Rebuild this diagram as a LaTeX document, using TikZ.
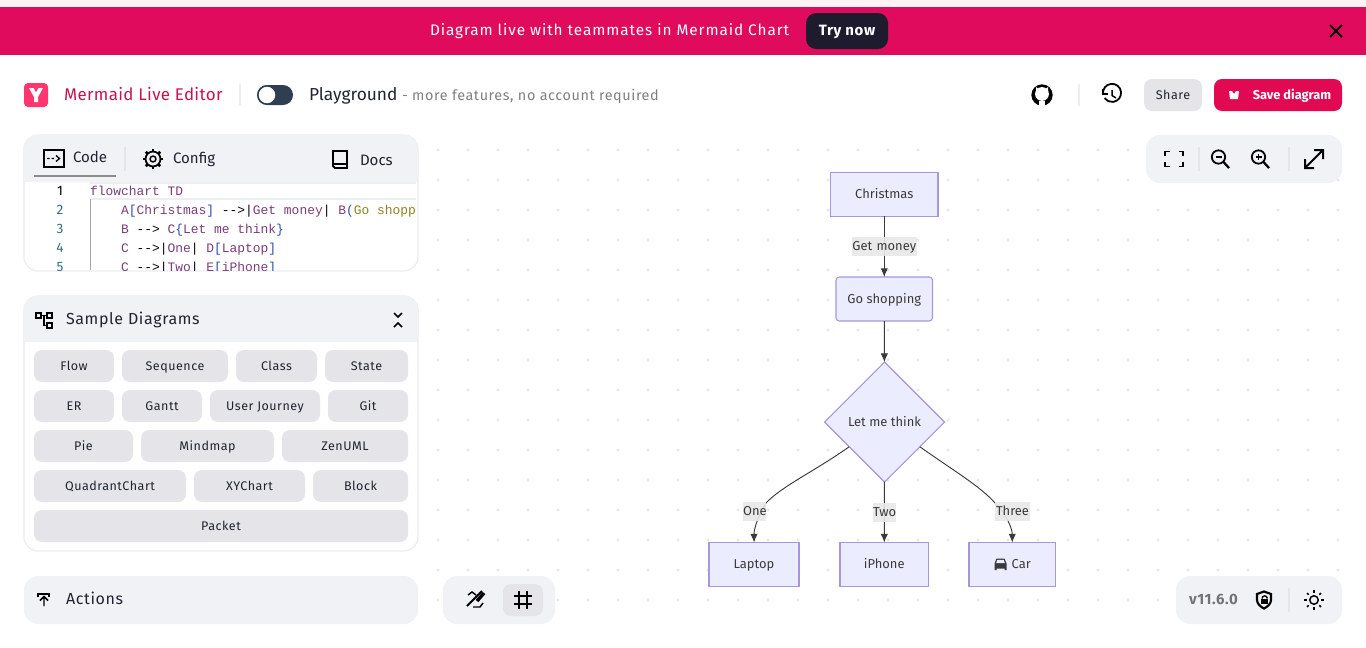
\documentclass[tikz,border=0pt]{standalone}
\usepackage{fontspec}
\setmainfont{Fira Sans}
\setmonofont{Liberation Mono}
\newfontfamily\spacedfont[LetterSpace=4]{Fira Sans}
\newfontfamily\widefont[LetterSpace=6]{Fira Sans}
\usetikzlibrary{arrows.meta,shapes.geometric}

\definecolor{bannerpink}{HTML}{E00B5C}
\definecolor{bannertop}{HTML}{FFF4F4}
\definecolor{darkbtn}{HTML}{1E1B2E}
\definecolor{logopink}{HTML}{FF3670}
\definecolor{titlepink}{HTML}{C9124F}
\definecolor{savepink}{HTML}{E10A52}
\definecolor{panelbg}{HTML}{F1F2F6}
\definecolor{panelline}{HTML}{EDEEF1}
\definecolor{btnbg}{HTML}{E5E5E9}
\definecolor{inkdark}{HTML}{1F2430}
\definecolor{togglebg}{HTML}{2F3E50}
\definecolor{griddot}{HTML}{E7E7E9}
\definecolor{flowfill}{HTML}{ECECFF}
\definecolor{flowline}{HTML}{A896DC}
\definecolor{edgeink}{HTML}{3A3A3A}
\definecolor{edgebg}{HTML}{E8E8E8}
\definecolor{codepurple}{HTML}{7A3E7A}
\definecolor{codeblue}{HTML}{2B4FB0}
\definecolor{codeolive}{HTML}{8C8420}
\definecolor{codenum}{HTML}{2F6F7F}

\tikzset{
    uitext/.style={anchor=west, inner sep=0pt, outer sep=0pt, text height=10pt, text depth=2pt, text=inkdark, font=\fontsize{11.3pt}{12pt}\selectfont},
    codetext/.style={anchor=west, inner sep=0pt, outer sep=0pt, text height=9.5pt, text depth=2.5pt, font=\ttfamily\fontsize{9.7pt}{11pt}\selectfont, text=codepurple},
    linenum/.style={inner sep=0pt, outer sep=0pt, text height=9.5pt, text depth=2.5pt, font=\fontsize{10.2pt}{11pt}\selectfont, text=codenum},
    panel/.style={fill=panelbg, rounded corners=10.5pt},
    samplebtn/.style={fill=btnbg, rounded corners=6pt, inner sep=0pt, outer sep=0pt, anchor=west, text height=9pt, text depth=2.5pt, minimum height=24pt, text=inkdark, font=\spacedfont\fontsize{9.4pt}{11pt}\selectfont},
    sepline/.style={draw=panelline, line width=1pt},
    icon/.style={draw=black, line width=1.35pt},
    flowbox/.style={draw=flowline, fill=flowfill, line width=0.8pt, inner sep=0pt, outer sep=0pt, text height=9pt, text depth=2.5pt, minimum height=33pt, text=edgeink, font=\fontsize{9.7pt}{11pt}\selectfont},
    flowdiamond/.style={flowbox, diamond, aspect=1, minimum width=90pt, minimum height=90pt},
    flowedge/.style={draw=edgeink, line width=0.7pt, -{Latex[length=6.5pt,width=5.5pt]}},
    edgelabel/.style={fill=edgebg, fill opacity=0.9, text opacity=1, text=edgeink, inner sep=0pt, text height=9pt, text depth=2.5pt, minimum height=14.5pt, font=\fontsize{9.7pt}{11pt}\selectfont}
}

\begin{document}
\begin{tikzpicture}[x=0.75pt, y=-0.75pt]
\useasboundingbox (0,0) rectangle (1366,647);
\fill [white] (0,0) rectangle (1366,647);

% dots behind the canvas
\foreach \x in {438,468,...,1338}
    \foreach \y in {150,180,...,600}
        \fill [griddot] (\x,\y) circle (1.15pt);

% banner
\fill [bannertop] (0,0) rectangle (1366,7);
\fill [bannerpink] (0,7) rectangle (1366,55);
\node [uitext, text=white, font=\widefont\fontsize{11.5pt}{12pt}\selectfont] (bannertext) at (430,30) {Diagram live with teammates in Mermaid Chart};
\node [samplebtn, fill=darkbtn, minimum width=61.5pt, minimum height=27pt, rounded corners=7.5pt, text=white, font=\spacedfont\bfseries\fontsize{11.2pt}{12pt}\selectfont] (trynow) at (806,31) {Try now};
\draw [icon, line width=1.5pt] (1330,25) -- (1342,37) (1342,25) -- (1330,37);

% top bar
\fill [logopink, rounded corners=3pt] (24,83) rectangle (48,107);
\fill [white] (29,88) -- (33.5,88) -- (36,92.5) -- (38.5,88) -- (43,88) -- (38,97) -- (38,102) -- (34,102) -- (34,97) -- cycle;
\node [uitext, text=titlepink, font=\fontsize{12.7pt}{14pt}\selectfont\addfontfeature{LetterSpace=2}] (title) at (64,95) {Mermaid Live Editor};
\draw [sepline] (240,84) -- (240,106);
\fill [togglebg, rounded corners=7.5pt] (257,85) rectangle (293,105);
\draw [fill=white, draw=togglebg, line width=1pt] (267,95) circle (6.8pt);
\node [uitext, font=\fontsize{13pt}{14pt}\selectfont] (playground) at (309,95) {Playground};
\node [uitext, text=black!50, font=\spacedfont\fontsize{10.8pt}{12pt}\selectfont] (playnote) at (402,95) {- more features, no account required};

\fill [black] (1042,95) circle (8pt);
\fill [white] (1042,94) circle (5.2pt);
\fill [white] (1036,87) -- (1040,90) -- (1036,92) -- cycle (1048,87) -- (1044,90) -- (1048,92) -- cycle;
\fill [white] (1039,101) rectangle (1045,107);
\draw [sepline] (1079,84) -- (1079,106);
\draw [icon] (1103,89) -- (1103,94) -- (1108,94);
\draw [icon] (1103,94) arc (187:-145:6.8pt);
\draw [icon, line width=1.1pt] (1112,90) -- (1112,95.5) -- (1116,98);
\node [samplebtn, minimum width=43.5pt, text=inkdark] (share) at (1144,95) {Share};
\node [samplebtn, fill=savepink, minimum width=96pt, text=white, font=\bfseries\fontsize{9.6pt}{11pt}\selectfont] (savebtn) at (1214,95) {\hspace*{21pt}Save diagram};
\fill [white] (1229,91) -- (1232,91) -- (1234,94) -- (1236,91) -- (1239,91) -- (1238,99) -- (1230,99) -- cycle;

% code panel
\draw [draw=panelline, fill=white, rounded corners=10.5pt, line width=1pt] (24,135) rectangle (418,271);
\fill [panelbg] (24,182) [rounded corners=10.5pt] -- (24,135) -- (418,135) [sharp corners] -- (418,182) -- cycle;
\draw [draw=black!45, line width=1.5pt] (34,176) -- (116,176);
\draw [sepline, draw=btnbg] (125,147) -- (125,171);
\draw [icon] (44,150) rectangle (64,167);
\draw [icon, line width=1pt] (47,158.5) -- (49.5,158.5) (51.5,158.5) -- (54,158.5) (56,155.5) -- (59.5,158.5) -- (56,161.5);
\node [uitext] (codetab) at (73,157) {Code};
\draw [icon, line width=1.3pt] (153,159) circle (5.6pt);
\draw [icon, line width=1.1pt] (153,159) circle (2.2pt);
\foreach \a in {0,45,...,315}
    \draw [icon, line width=2pt] (153,159) ++(\a:5.6pt) -- ++(\a:2pt);
\node [uitext] (configtab) at (173,158) {Config};
\draw [icon] (333,151) -- (347,151) -- (347,168) -- (335,168) -- (333,166) -- cycle;
\draw [icon, line width=1pt] (333,164) -- (347,164);
\node [uitext] (docstab) at (360,160) {Docs};

\draw [draw=panelline, line width=0.8pt] (90,183) -- (416,183) (90,199) -- (416,199);
\draw [draw=black!35, line width=0.6pt] (90,199) -- (90,270);
\begin{scope}
\clip (24,183) rectangle (414,270);
\foreach \n/\y in {2/209.5,3/228.5,4/247.5,5/266.5}
    \node [linenum] (num\n) at (60,\y) {\n};
\node [linenum, text=black] (num1) at (60,190.5) {1};
\node [codetext] (line1) at (90,190.5) {flowchart TD};
\node [codetext] (line2) at (121,209.5) {A\textcolor{codeblue}{[}Christmas\textcolor{codeblue}{]} \textcolor{black}{-->|}Get money\textcolor{black}{|} B\textcolor{codeblue}{(}\textcolor{codeolive}{Go shopp}};
\node [codetext] (line3) at (121,228.5) {B \textcolor{black}{-->} C\textcolor{codeblue}{\{}Let me think\textcolor{codeblue}{\}}};
\node [codetext] (line4) at (121,247.5) {C \textcolor{black}{-->|}One\textcolor{black}{|} D\textcolor{codeblue}{[}Laptop\textcolor{codeblue}{]}};
\node [codetext] (line5) at (121,266.5) {C \textcolor{black}{-->|}Two\textcolor{black}{|} E\textcolor{codeblue}{[}iPhone\textcolor{codeblue}{]}};
\end{scope}

% sample diagrams
\draw [draw=panelline, fill=white, rounded corners=10.5pt, line width=1pt] (24,296) rectangle (418,551);
\fill [panelbg] (24,342) [rounded corners=10.5pt] -- (24,296) -- (418,296) [sharp corners] -- (418,342) -- cycle;
\draw [icon, line width=1pt] (36,313) rectangle (41,318) (47,313) rectangle (52,318) (47,323) rectangle (52,328);
\draw [icon, line width=1pt] (41,315.5) -- (47,315.5) (44,315.5) -- (44,325.5) -- (47,325.5);
\node [uitext, font=\spacedfont\fontsize{12pt}{14pt}\selectfont] (sampletitle) at (66,319) {Sample Diagrams};
\draw [icon, line width=1.1pt] (394,313) -- (398,317) -- (402,313) (394,327) -- (398,323) -- (402,327);

\foreach \bname/\bx/\bw in {Flow/34/80,Sequence/122/106,Class/236/81,State/325/83}
    \node [samplebtn, minimum width=\bw*0.75pt] (btn\bname) at (\bx,366) {\bname};
\foreach \bname/\bx/\bw in {ER/34/80,Gantt/122/80,User Journey/210/110,Git/328/80}
    \node [samplebtn, minimum width=\bw*0.75pt] at (\bx,406) {\bname};
\foreach \bname/\bx/\bw in {Pie/34/99,Mindmap/141/133,ZenUML/282/126}
    \node [samplebtn, minimum width=\bw*0.75pt] (btn\bname) at (\bx,446) {\bname};
\foreach \bname/\bx/\bw in {QuadrantChart/34/152,XYChart/194/111,Block/313/95}
    \node [samplebtn, minimum width=\bw*0.75pt] (btn\bname) at (\bx,486) {\bname};
\node [samplebtn, minimum width=280.5pt] (btnPacket) at (34,526) {Packet};

% bottom left
\fill [panel] (24,576) rectangle (418,624);
\draw [icon, line width=1.1pt] (37,594) -- (50,594) (38,597) -- (38,594) (49,597) -- (49,594);
\draw [icon, line width=1.1pt] (44,606) -- (44,597) (40,600.5) -- (44,596.5) -- (48,600.5);
\node [uitext, font=\spacedfont\fontsize{12pt}{14pt}\selectfont] (actions) at (66,599) {Actions};
\fill [panel] (443,576) rectangle (555,624);
\draw [icon] (467,606) -- (482,591);
\draw [icon, line width=2.6pt] (477,601) -- (484,593);
\draw [icon, line width=1.1pt] (468,595) -- (472,592) -- (476,595) (473,607) -- (480,607) -- (483,603);
\fill [btnbg, rounded corners=6pt] (503,584) rectangle (543,616);
\draw [icon, line width=2pt] (519,591) -- (519,609) (527,591) -- (527,609) (514,596) -- (532,596) (514,604) -- (532,604);

% top right tools
\fill [panel] (1146,135) rectangle (1342,183);
\draw [icon] (1165,156) -- (1165,151.5) -- (1169.5,151.5) (1178.5,151.5) -- (1183,151.5) -- (1183,156) (1183,162) -- (1183,166.5) -- (1178.5,166.5) (1169.5,166.5) -- (1165,166.5) -- (1165,162);
\draw [sepline, draw=btnbg] (1199,147) -- (1199,171);
\draw [icon] (1218.5,157) circle (5pt);
\draw [icon, line width=1.7pt] (1223.5,162) -- (1229,168);
\draw [icon, line width=1.1pt] (1215.5,157) -- (1221.5,157);
\draw [icon] (1258.5,157) circle (5pt);
\draw [icon, line width=1.7pt] (1263.5,162) -- (1269,168);
\draw [icon, line width=1.1pt] (1255.5,157) -- (1261.5,157) (1258.5,154) -- (1258.5,160);
\draw [sepline, draw=btnbg] (1289,147) -- (1289,171);
\draw [icon, line width=1.5pt] (1305,168) -- (1323,150) (1314,150) -- (1323,150) -- (1323,159) (1305,159) -- (1305,168) -- (1314,168);

% bottom right tools
\fill [panel] (1176,576) rectangle (1342,624);
\node [uitext, text=black!55, font=\bfseries\spacedfont\fontsize{11.2pt}{12pt}\selectfont] (version) at (1189,599.5) {v11.6.0};
\draw [icon, line width=1.6pt] (1264,591.5) -- (1271,594) -- (1271,600) .. controls (1271,604) and (1267,607) .. (1264,608.5) .. controls (1261,607) and (1257,604) .. (1257,600) -- (1257,594) -- cycle;
\fill [black] (1260.5,598.5) rectangle (1267.5,604);
\draw [icon, line width=1pt] (1262,598.5) arc (180:0:2pt);
\draw [sepline, draw=btnbg] (1289,588) -- (1289,612);
\draw [icon, line width=1.1pt] (1314,600) circle (3.2pt);
\foreach \a in {0,45,...,315}
    \draw [icon, line width=1.1pt] (1314,600) ++(\a:5.6pt) -- ++(\a:1.8pt);

% flowchart
\node [flowbox, minimum width=80.6pt] (christmas) at (884.25,194.25) {Christmas};
\node [flowbox, minimum width=72.4pt, rounded corners=2.5pt] (shopping) at (884.25,299) {Go shopping};
\node [flowdiamond] (think) at (884.5,422) {Let me think};
\node [flowbox, minimum width=67.5pt] (laptop) at (754,564.5) {Laptop};
\node [flowbox, minimum width=66.4pt] (iphone) at (884.25,564.5) {iPhone};
\node [flowbox, minimum width=64.9pt] (car) at (1012.25,564.5) {\hspace*{13.5pt}Car};
\fill [edgeink] (994.5,570) -- (994.5,563.5) -- (996.5,558.5) -- (1004.5,558.5) -- (1006.5,563.5) -- (1006.5,570) -- (1004.5,570) -- (1004.5,568.5) -- (996.5,568.5) -- (996.5,570) -- cycle;
\fill [flowfill] (997.3,559.8) -- (1003.7,559.8) -- (1004.8,563) -- (996.2,563) -- cycle;

\draw [flowedge] (christmas) -- node [edgelabel, text width=48.5pt, align=center] (getmoney) {Get money} (shopping);
\draw [flowedge] (shopping) -- (think);
\draw [flowedge] (think) -- node [edgelabel, text width=17pt, align=center] (two) {Two} (iphone);
\draw [flowedge] (think.215) .. controls (815,471) and (782,486) .. (766,503) .. controls (759,514) and (754,528) .. (laptop.north);
\draw [flowedge] (think.-35) .. controls (954,471) and (980,486) .. (995,503) .. controls (1006,514) and (1012.25,528) .. (car.north);
\node [edgelabel, text width=17pt, align=center] (one) at (754.5,511.5) {One};
\node [edgelabel, text width=26pt, align=center] (three) at (1012.5,511.5) {Three};
\end{tikzpicture}
\end{document}
